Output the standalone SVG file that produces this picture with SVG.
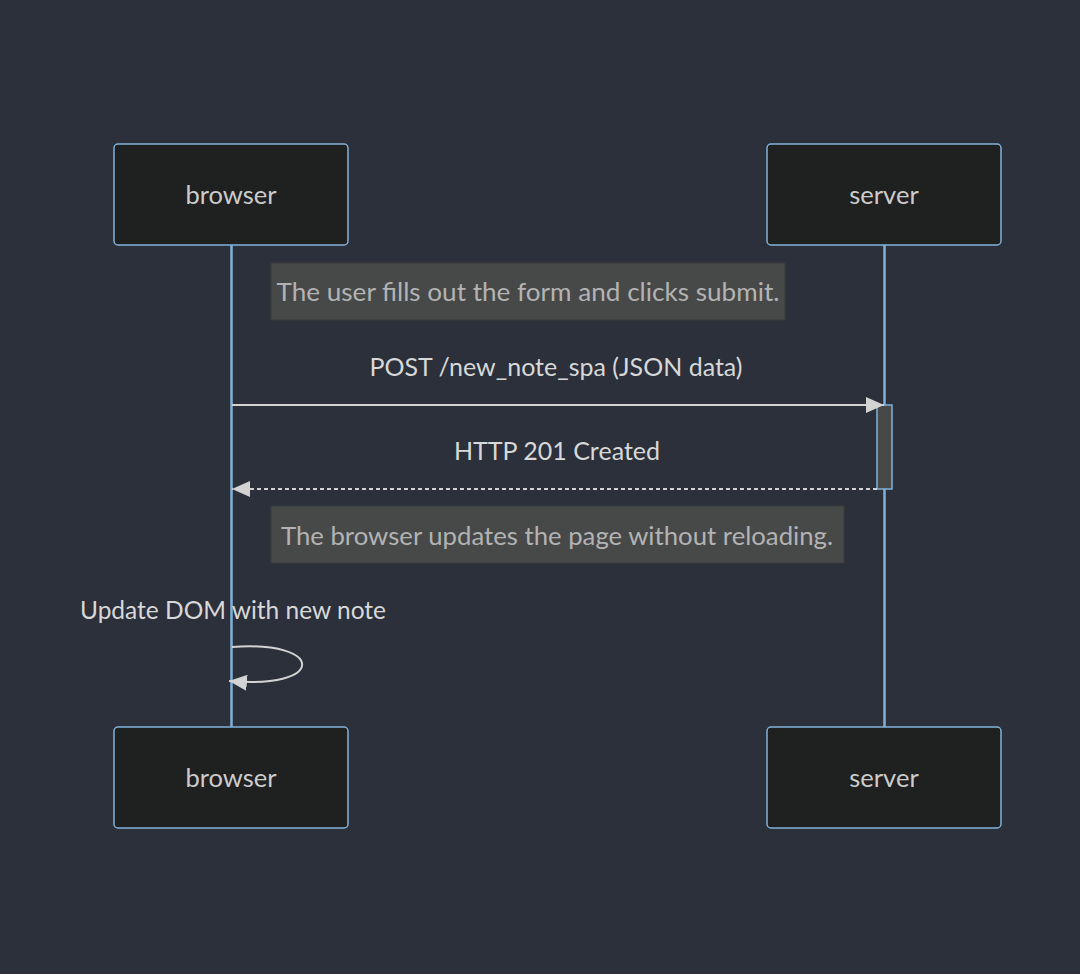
<svg xmlns="http://www.w3.org/2000/svg" width="1080" height="974" viewBox="0 0 1080 974">
<defs>
<style>
.actor rect{fill:#1f2020;stroke:#81b1db;stroke-width:1.5}
.actor text{fill:#cccccc;font-family:Lato,"Open Sans","DejaVu Sans",sans-serif;font-size:25.5px;text-anchor:middle}
.life{stroke:#81b1db;stroke-width:2.5}
.note rect{fill:#474949;stroke:#3a3a3a;stroke-width:1}
.note text{fill:#b3b3b3;font-family:Lato,"Open Sans","DejaVu Sans",sans-serif;font-size:25px;text-anchor:middle}
.msgtext{fill:#d8d8d8;font-family:Lato,"Open Sans","DejaVu Sans",sans-serif;font-size:25px;text-anchor:middle}
.msg{stroke:#d3d3d3;stroke-width:2;fill:none}
</style>
<marker id="arrow" viewBox="0 0 18 16" refX="18" refY="8" markerWidth="18" markerHeight="16" markerUnits="userSpaceOnUse" orient="auto">
<path d="M0,0 L18,8 L0,16 z" fill="#d3d3d3"/>
</marker>
</defs>
<rect width="1080" height="974" fill="#2b303b"/>
<g id="lifelines">
<line class="life" x1="231.5" y1="245" x2="231.5" y2="727"/>
<line class="life" x1="884.5" y1="245" x2="884.5" y2="727"/>
</g>
<g id="actor-browser-top" class="actor">
<rect x="114" y="144" width="234" height="101" rx="4"/>
<text x="231" y="204">browser</text>
</g>
<g id="actor-server-top" class="actor">
<rect x="767" y="144" width="234" height="101" rx="4"/>
<text x="884" y="204">server</text>
</g>
<g id="note1" class="note">
<rect x="271" y="263" width="514" height="57"/>
<text x="528" y="301" textLength="503" lengthAdjust="spacingAndGlyphs">The user fills out the form and clicks submit.</text>
</g>
<g id="activation">
<rect x="877" y="405" width="15" height="84" fill="#474949" stroke="#81b1db" stroke-width="1.5"/>
</g>
<g id="note2" class="note">
<rect x="271" y="506" width="573" height="57"/>
<text x="557" y="545" textLength="552" lengthAdjust="spacingAndGlyphs">The browser updates the page without reloading.</text>
</g>
<g id="connectors">
<text class="msgtext" x="556" y="376">POST /new_note_spa (JSON data)</text>
<line class="msg" x1="232" y1="405" x2="884" y2="405" marker-end="url(#arrow)"/>
<text class="msgtext" x="557" y="460">HTTP 201 Created</text>
<line class="msg" x1="877" y1="489" x2="232" y2="489" stroke-dasharray="4,3" marker-end="url(#arrow)"/>
<text class="msgtext" x="233" y="619" textLength="306" lengthAdjust="spacingAndGlyphs">Update DOM with new note</text>
<path class="msg" d="M232,647 C326,640 326,690 229,681" marker-end="url(#arrow)"/>
</g>
<g id="actor-browser-bottom" class="actor">
<rect x="114" y="727" width="234" height="101" rx="4"/>
<text x="231" y="787">browser</text>
</g>
<g id="actor-server-bottom" class="actor">
<rect x="767" y="727" width="234" height="101" rx="4"/>
<text x="884" y="787">server</text>
</g>
</svg>
